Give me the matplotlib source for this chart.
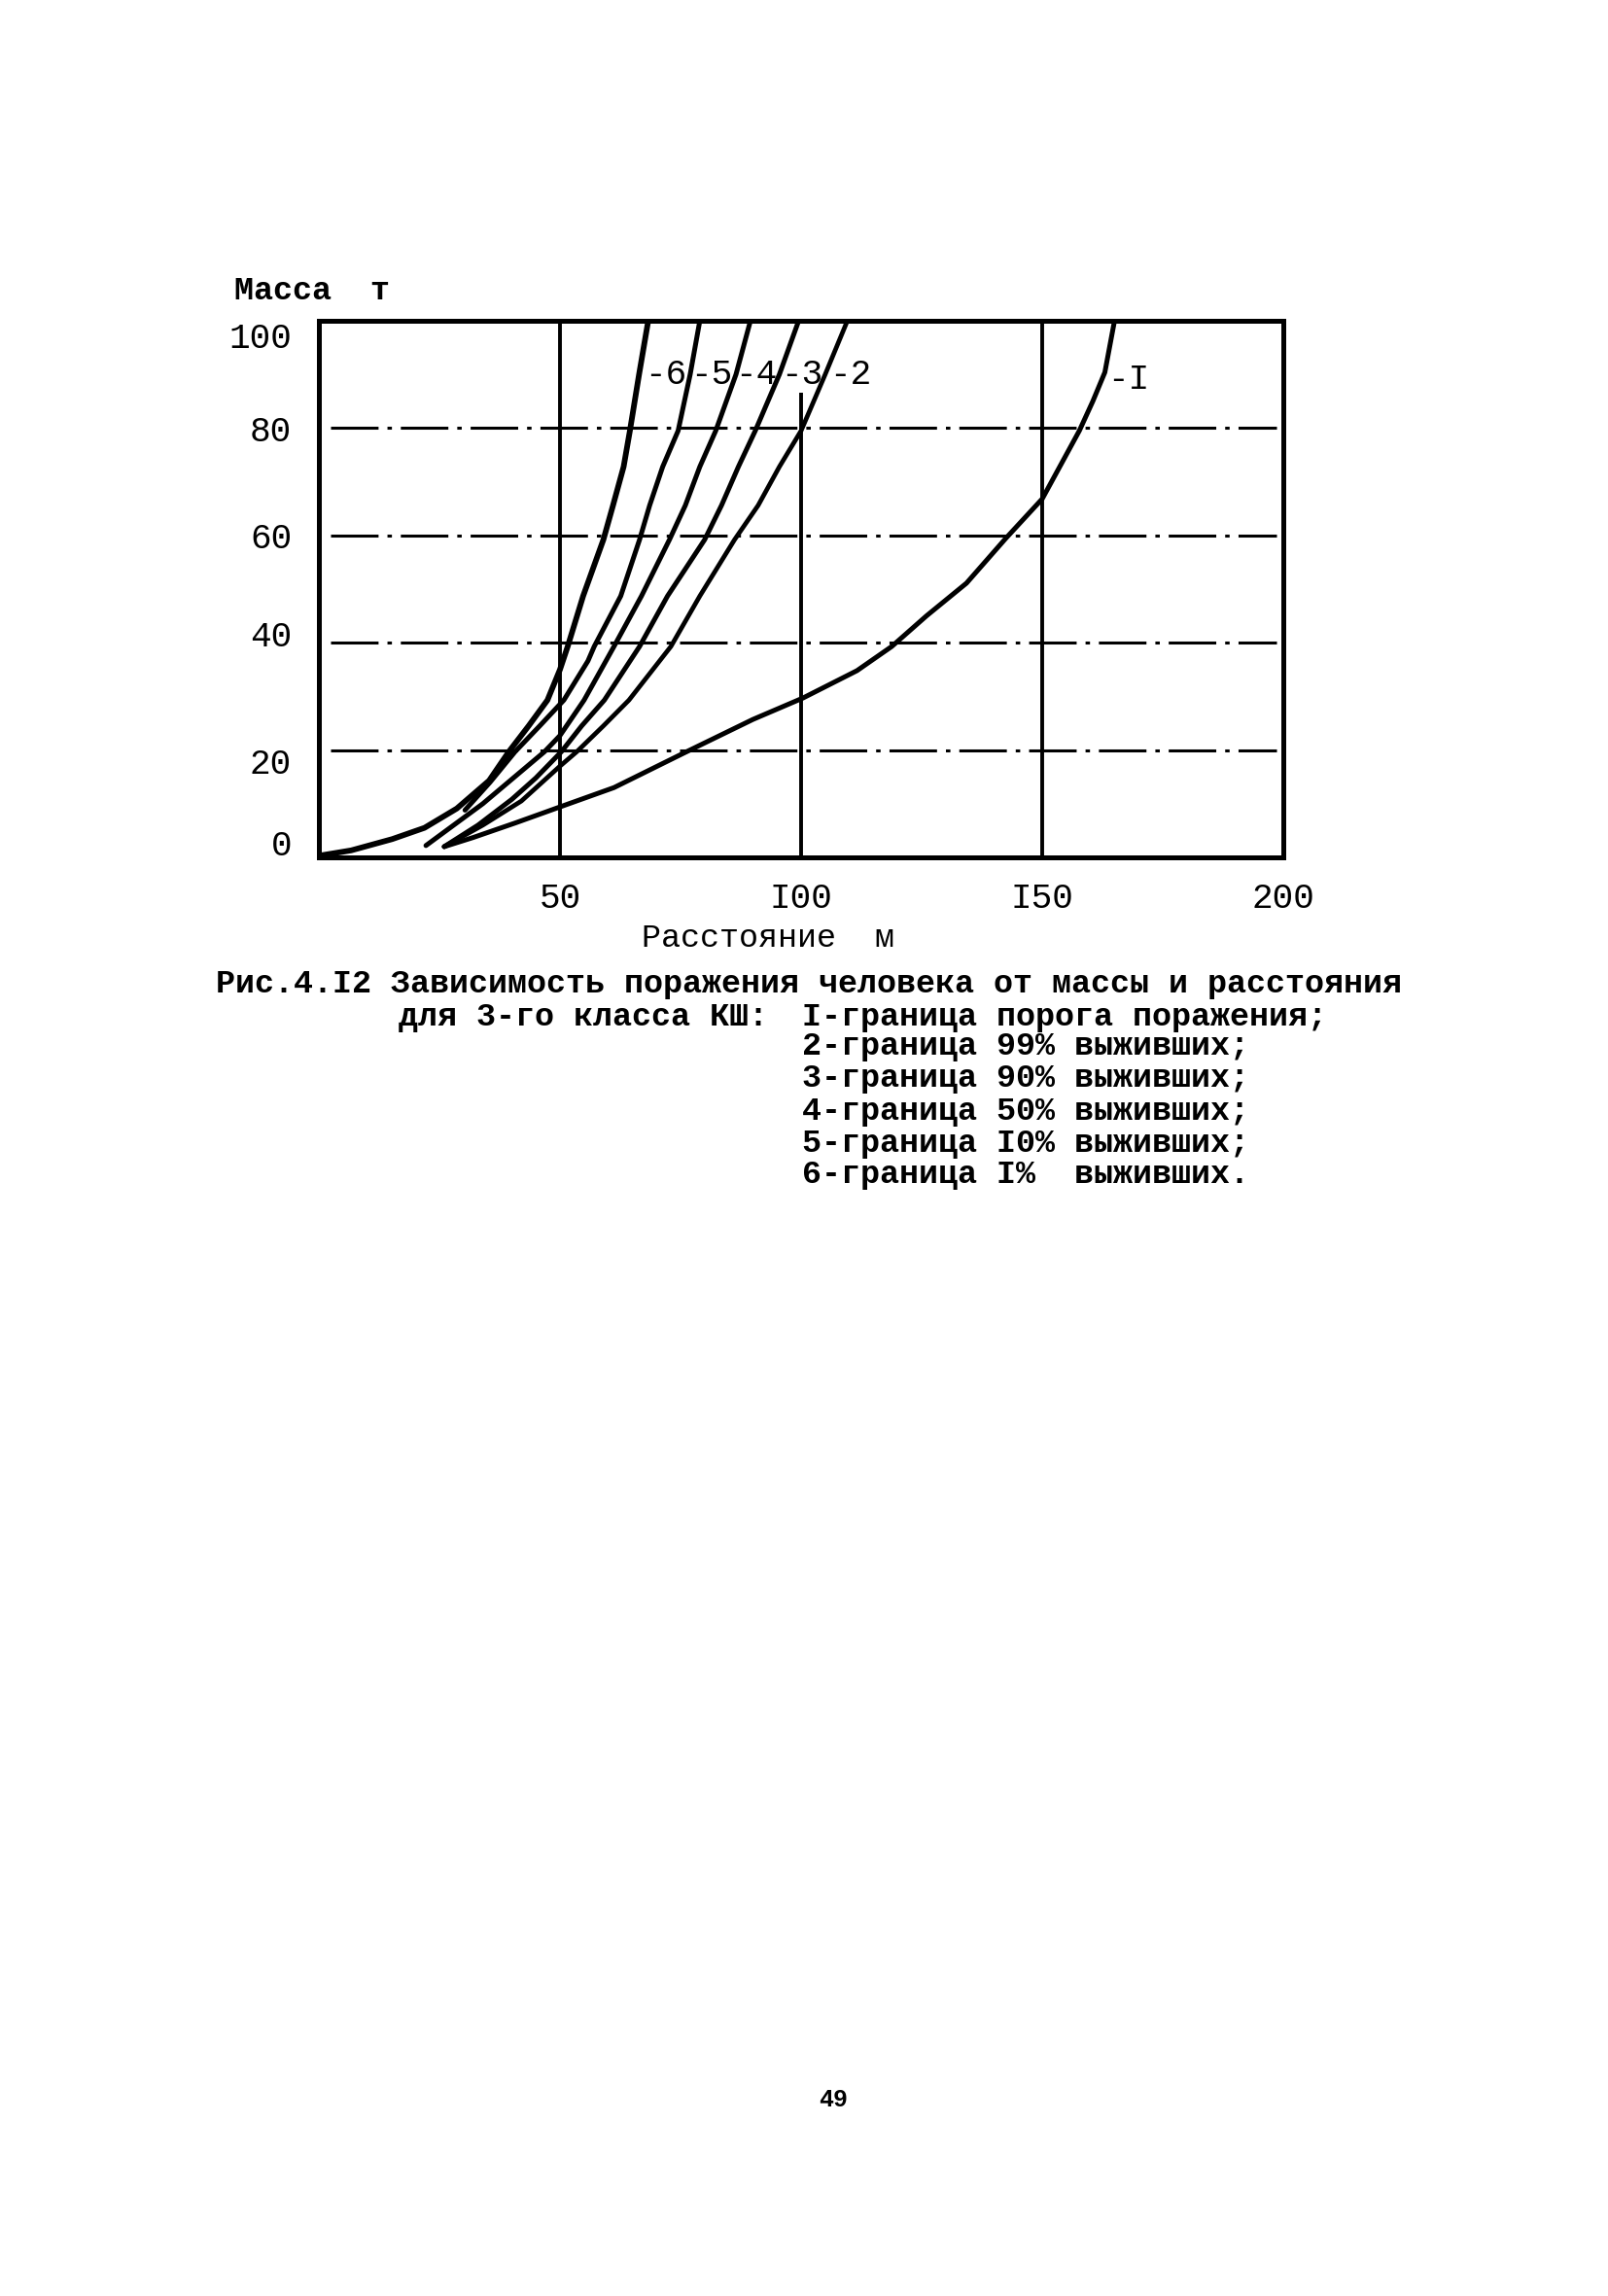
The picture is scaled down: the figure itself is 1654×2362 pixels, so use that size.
import matplotlib
matplotlib.use("Agg")
import matplotlib.pyplot as plt
from matplotlib.transforms import ScaledTranslation

plt.rcParams['font.family'] = ['Liberation Mono', 'DejaVu Sans Mono']

# --- data (distance m, mass t) ---
x_c6 = [0, 6.7, 15.2, 21.9, 28.6, 35.3, 39.4, 43.5, 47.4, 50, 51.6, 54.8, 59, 61, 63.2, 64.5, 66.4, 68.3]
y_c6 = [0.3, 1.3, 3.4, 5.5, 9.1, 14.3, 19.7, 24.5, 29.3, 35, 39.3, 48.7, 59.2, 65.6, 72.8, 79.5, 90, 100]

x_c5 = [30.3, 35.5, 40.7, 45.8, 50.8, 55.8, 57.1, 62.6, 66.5, 68.6, 71.3, 74.5, 77, 79]
y_c5 = [8.8, 14, 19.7, 24.5, 29.3, 36.6, 39.3, 48.7, 59.2, 65.6, 72.8, 79.5, 90, 100]

x_c4 = [22.2, 34, 46.8, 50, 55, 61.2, 66.9, 72.7, 76, 79, 82.3, 86.5, 89.5]
y_c4 = [2.2, 10, 19.7, 22.7, 29.3, 39.3, 48.7, 59.2, 65.6, 72.8, 79.5, 90, 100]

x_c3 = [26, 33, 40, 45, 50.3, 54.5, 59.2, 66.5, 72.3, 80, 83.5, 87, 90.5, 95.5, 99.5]
y_c3 = [2, 6, 10.8, 14.8, 19.7, 24.5, 29.3, 39.3, 48.7, 59.2, 65.6, 72.8, 79.5, 90, 100]

x_c2 = [26, 34, 42, 50, 53.5, 59, 64.3, 73, 79, 86.2, 91.1, 95.5, 100, 105, 109.6]
y_c2 = [2, 6, 10.5, 17, 19.7, 24.5, 29.3, 39.3, 48.7, 59.2, 65.6, 72.8, 79.5, 90, 100]

x_c1 = [26, 32, 40.7, 50, 61.2, 75.6, 90, 100.4, 111.6, 118.8, 126, 134.3, 142.4, 150, 157.7, 160.5, 163, 165]
y_c1 = [2.0, 3.7, 6.4, 9.4, 13, 19.4, 25.7, 29.7, 34.8, 39.3, 45, 51.1, 59.4, 66.8, 79.5, 85, 90.4, 100]

curve_labels = ["-6", "-5", "-4", "-3", "-2", "-I"]
label_x = [67.5, 77, 86.4, 95.8, 105.9, 163.6]
label_y = [90, 90, 90, 90, 90, 89]

x_ticks = [50, 100, 150, 200]
x_ticklabels = ["50", "I00", "I50", "200"]
y_ticks = [0, 20, 40, 60, 80, 100]
y_label_shift = [-16, 11, -10, 0, 0, 15]   # scan jitter of the y tick labels, px down

caption = [
    "Рис.4.I2 Зависимость поражения человека от массы и расстояния",
    "для 3-го класса КШ:",
    "I-граница порога поражения;",
    "2-граница 99% выживших;",
    "3-граница 90% выживших;",
    "4-граница 50% выживших;",
    "5-граница I0% выживших;",
    "6-граница I%  выживших.",
]

# --- layout (page pixels) ---
W, H = 1654, 2362
def fx(px):
    return px / W
def fy(py):
    return 1 - py / H

fig = plt.figure(figsize=(W / 200, H / 200), dpi=200)
fig.patch.set_facecolor('white')
ax = fig.add_axes([fx(328), fy(882), (1320 - 328) / W, (882 - 330) / H])

ax.set_xlim(0, 200)
ax.set_ylim(0, 100)

# grid: solid verticals, dash-dot horizontals
ax.vlines([50, 150], 0, 100, colors='black', lw=1.4)
ax.vlines([100], 0, 86.6, colors='black', lw=1.4)
for yy in [20, 40, 60, 80]:
    ax.hlines(yy, 2.4, 198.5, colors='black', lw=1.1, linestyles=(0, (16, 3, 1.5, 3)))

for xs, ys, lw in [(x_c6, y_c6, 2.1), (x_c5, y_c5, 1.8), (x_c4, y_c4, 1.8),
                   (x_c3, y_c3, 1.8), (x_c2, y_c2, 1.7), (x_c1, y_c1, 1.8)]:
    ax.plot(xs, ys, color='black', lw=lw, solid_capstyle='round', solid_joinstyle='round')

for lab, lx, ly in zip(curve_labels, label_x, label_y):
    ax.text(lx, ly, lab, fontsize=13, ha='left', va='center', color='black')

for sp in ax.spines.values():
    sp.set_linewidth(1.8)

ax.set_xticks(x_ticks)
ax.set_xticklabels(x_ticklabels)
ax.set_yticks(y_ticks)
ax.tick_params(length=0, labelsize=13)
ax.tick_params(axis='x', pad=9)
ax.tick_params(axis='y', pad=10)
for lbl, dy in zip(ax.get_yticklabels(), y_label_shift):
    lbl.set_transform(lbl.get_transform() + ScaledTranslation(0, -dy / 200, fig.dpi_scale_trans))

# axis titles
fig.text(fx(241), fy(300), "Масса  т", fontsize=12, fontweight='bold', ha='left', va='center')
fig.text(fx(660), fy(965), "Расстояние  м", fontsize=12, ha='left', va='center')

# caption
fig.text(fx(222), fy(1012), caption[0], fontsize=12, fontweight='bold', ha='left', va='center')
fig.text(fx(410), fy(1046), caption[1], fontsize=12, fontweight='bold', ha='left', va='center')
cap_y = [1046, 1077, 1110, 1143, 1176, 1209]
for line, py in zip(caption[2:], cap_y):
    fig.text(fx(825), fy(py), line, fontsize=12, fontweight='bold', ha='left', va='center')

# page number
fig.text(fx(857), fy(2160), "49", fontsize=9, fontweight='bold', ha='center', va='center')

fig.savefig("out.png", dpi=200, facecolor='white')
